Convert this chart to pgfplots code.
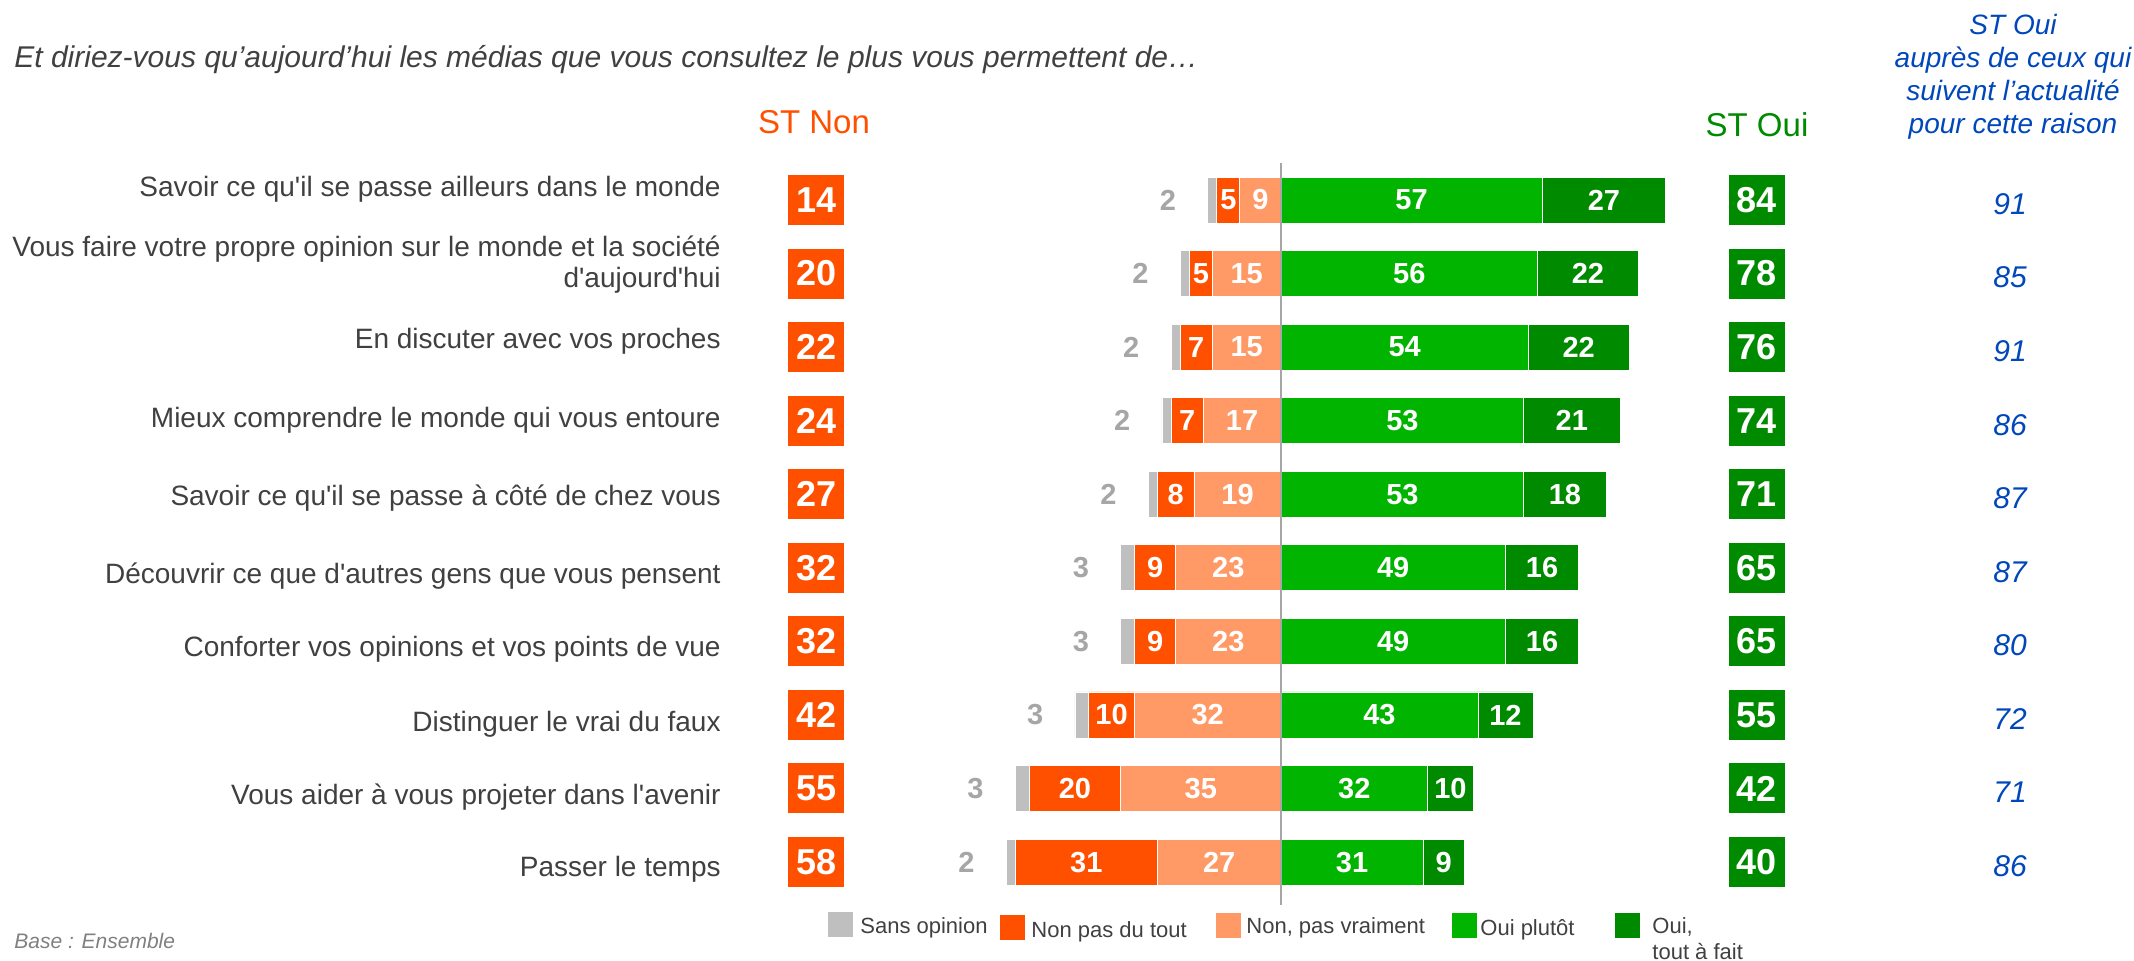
\documentclass[border=0pt]{standalone}
\usepackage{pgfplots}
\pgfplotsset{compat=1.18}
\usepackage{pgfplotstable}
\usepackage{fontspec}
\setmainfont{Liberation Sans}[Ligatures=TeXOff]

\definecolor{sgrey}{HTML}{BFBFBF}
\definecolor{sgreytxt}{HTML}{A6A6A6}
\definecolor{dorange}{HTML}{FF5000}
\definecolor{lorange}{HTML}{FF9966}
\definecolor{lgreen}{HTML}{00B400}
\definecolor{dgreen}{HTML}{008A00}
\definecolor{txtgrey}{HTML}{404040}
\definecolor{basegrey}{HTML}{808080}
\definecolor{blueit}{HTML}{0047BB}
\definecolor{zeroline}{HTML}{A6A6A6}

\pgfplotstableread{
row sans dutout vraiment plutot toutafait stnon stoui cible
1  2  5  9  57 27 14 84 91
2  2  5  15 56 22 20 78 85
3  2  7  15 54 22 22 76 91
4  2  7  17 53 21 24 74 86
5  2  8  19 53 18 27 71 87
6  3  9  23 49 16 32 65 87
7  3  9  23 49 16 32 65 80
8  3  10 32 43 12 42 55 72
9  3  20 35 32 10 55 42 71
10 2  31 27 31 9  58 40 86
}\data

\pgfplotsset{
  base/.style={
    at={(0pt,0pt)}, anchor=south west,
    scale only axis, width=1067pt, height=480pt,
    y dir=reverse, ymin=-1.719, ymax=11.332,
    clip=false,
    /pgf/number format/assume math mode=true,
  },
}
\tikzset{barlabel/.style={font=\fontsize{14.5}{16}\selectfont\bfseries, text=white, anchor=center, inner sep=0pt}}

\begin{document}
\begin{tikzpicture}
\useasboundingbox (0,0) rectangle (1067pt,480pt);

% negative side (drawn leftwards with reversed x axis)
\begin{axis}[base, hide axis,
  xbar stacked, bar width=23pt,
  x dir=reverse, xmin=-186.24, xmax=279.69,
]
\addplot[fill=lorange, draw=white, line width=0.4pt] table[x=vraiment, y=row] {\data};
\addplot[fill=dorange, draw=white, line width=0.4pt] table[x=dutout, y=row] {\data};
\addplot[fill=sgrey, draw=white, line width=0.4pt] table[x=sans, y=row] {\data};
\end{axis}

% positive side
\begin{axis}[base, hide axis,
  xbar stacked, bar width=23pt,
  xmin=-279.69, xmax=186.24,
]
\addplot[fill=lgreen, draw=white, line width=0.4pt] table[x=plutot, y=row] {\data};
\addplot[fill=dgreen, draw=white, line width=0.4pt] table[x=toutafait, y=row] {\data};
\end{axis}

% annotations: categories, bar values, ST Non, ST Oui, target column
\begin{axis}[base,
  xmin=-279.69, xmax=186.24,
  axis line style={draw=none}, major tick length=0pt,
  xtick=\empty,
  ytick={0.853,1.876,2.915,3.994,5.050,6.114,7.111,8.127,9.114,10.092},
  yticklabels={
    Savoir ce qu'il se passe ailleurs dans le monde,
    {Vous faire votre propre opinion sur le monde et la société\\d'aujourd'hui},
    En discuter avec vos proches,
    Mieux comprendre le monde qui vous entoure,
    Savoir ce qu'il se passe à côté de chez vous,
    Découvrir ce que d'autres gens que vous pensent,
    Conforter vos opinions et vos points de vue,
    Distinguer le vrai du faux,
    Vous aider à vous projeter dans l'avenir,
    Passer le temps},
  yticklabel style={anchor=east, align=right, inner sep=0pt, xshift=360.5pt,
    font=\fontsize{14}{15.5}\selectfont, text=txtgrey},
]
% values inside the bars, centred on each segment
\addplot[draw=none, mark=none, nodes near coords, point meta=\thisrow{vraiment},
  every node near coord/.style={barlabel}]
  table[x expr={-\thisrow{vraiment}/2}, y=row] {\data};
\addplot[draw=none, mark=none, nodes near coords, point meta=\thisrow{dutout},
  every node near coord/.style={barlabel}]
  table[x expr={-\thisrow{vraiment}-\thisrow{dutout}/2}, y=row] {\data};
\addplot[draw=none, mark=none, nodes near coords, point meta=\thisrow{sans},
  every node near coord/.style={barlabel, text=sgreytxt}]
  table[x expr={-\thisrow{vraiment}-\thisrow{dutout}-\thisrow{sans}-8.7}, y=row] {\data};
\addplot[draw=none, mark=none, nodes near coords, point meta=\thisrow{plutot},
  every node near coord/.style={barlabel}]
  table[x expr={\thisrow{plutot}/2}, y=row] {\data};
\addplot[draw=none, mark=none, nodes near coords, point meta=\thisrow{toutafait},
  every node near coord/.style={barlabel}]
  table[x expr={\thisrow{plutot}+\thisrow{toutafait}/2}, y=row] {\data};
% ST Non / ST Oui boxes
\addplot[draw=none, mark=none, nodes near coords, point meta=\thisrow{stnon},
  every node near coord/.style={anchor=center, fill=dorange, text=white, inner sep=0pt,
    minimum width=28pt, minimum height=25pt, font=\fontsize{18}{20}\selectfont\bfseries}]
  table[x expr=-101.5, y=row] {\data};
\addplot[draw=none, mark=none, nodes near coords, point meta=\thisrow{stoui},
  every node near coord/.style={anchor=center, fill=dgreen, text=white, inner sep=0pt,
    minimum width=28pt, minimum height=25pt, font=\fontsize{18}{20}\selectfont\bfseries}]
  table[x expr=103.9, y=row] {\data};
\addplot[draw=none, mark=none, nodes near coords, point meta=\thisrow{cible},
  every node near coord/.style={anchor=center, text=blueit, inner sep=0pt,
    yshift=-2pt, font=\fontsize{15}{17}\selectfont\itshape}]
  table[x expr=159.2, y=row] {\data};
\end{axis}

% texts and legend, in reference pixel units
\begin{scope}[x=0.5pt, y=-0.5pt, shift={(0pt,480pt)}]
\draw[zeroline, line width=1pt] (1281,163) -- (1281,905);

\node[anchor=base west, inner sep=0pt, text=txtgrey, font=\fontsize{15}{17}\selectfont\itshape]
  at (14,68) {Et diriez-vous qu’aujourd’hui les médias que vous consultez le plus vous permettent de…};
\node[anchor=base west, inner sep=0pt, text=basegrey, font=\fontsize{10.5}{12}\selectfont\itshape]
  at (14,948) {Base : Ensemble};

\node[anchor=base, inner sep=0pt, text=dorange, font=\fontsize{16.5}{18}\selectfont] at (814,134) {ST Non};
\node[anchor=base, inner sep=0pt, text=dgreen, font=\fontsize{16.5}{18}\selectfont] at (1757,137) {ST Oui};

\begin{scope}[every node/.style={anchor=base, inner sep=0pt, text=blueit, font=\fontsize{14}{16}\selectfont\itshape}]
\node at (2013,35) {ST Oui};
\node at (2013,68) {auprès de ceux qui};
\node at (2013,101) {suivent l’actualité};
\node at (2013,134) {pour cette raison};
\end{scope}

% legend
\fill[sgrey]   (828,912)  rectangle (853,937);
\fill[dorange] (1000,915) rectangle (1025,940);
\fill[lorange] (1216,913) rectangle (1241,938);
\fill[lgreen]  (1452,913) rectangle (1477,938);
\fill[dgreen]  (1615,913) rectangle (1640,938);
\begin{scope}[every node/.style={anchor=base west, inner sep=0pt, text=txtgrey, font=\fontsize{11}{13}\selectfont}]
\node at (860,933)  {Sans opinion};
\node at (1031,937) {Non pas du tout};
\node at (1246,933) {Non, pas vraiment};
\node at (1480,935) {Oui plutôt};
\node at (1652,933) {Oui,};
\node at (1652,959) {tout à fait};
\end{scope}
\end{scope}
\end{tikzpicture}
\end{document}
